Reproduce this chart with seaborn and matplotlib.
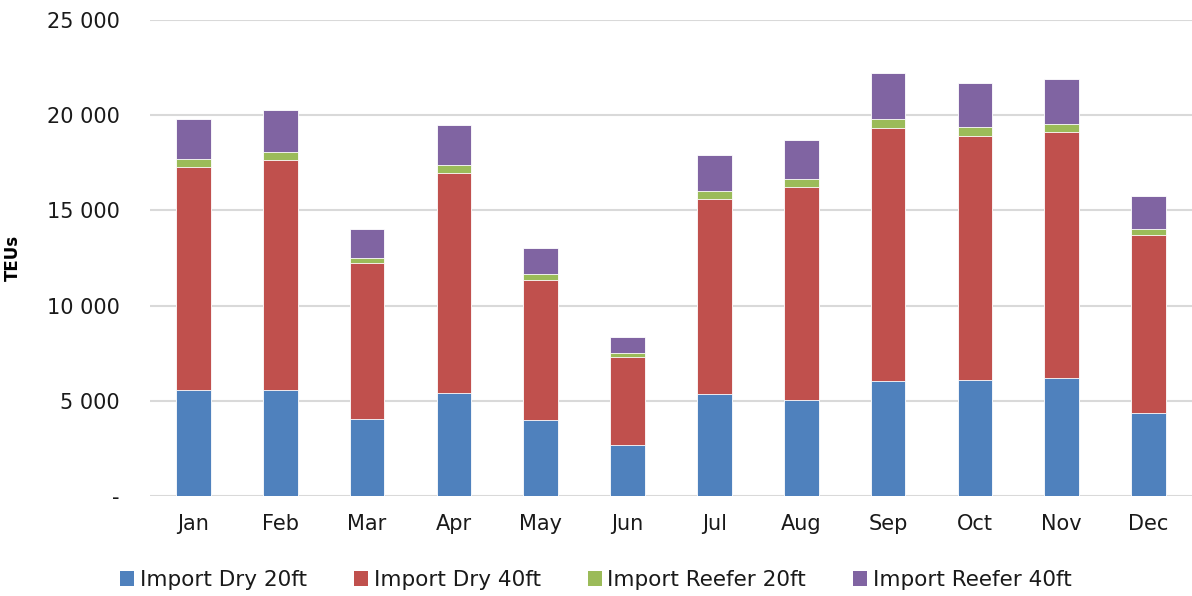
import numpy as np
import pandas as pd
import matplotlib
matplotlib.use("Agg")
import matplotlib.pyplot as plt
from matplotlib.ticker import FuncFormatter, MultipleLocator
from matplotlib.patches import Patch
import seaborn as sns

months = ["Jan", "Feb", "Mar", "Apr", "May", "Jun", "Jul", "Aug", "Sep", "Oct", "Nov", "Dec"]
dry_20 = [5550, 5580, 4060, 5390, 3970, 2680, 5340, 5040, 6040, 6090, 6180, 4340]
dry_40 = [11710, 12050, 8160, 11590, 7390, 4600, 10280, 11210, 13310, 12830, 12920, 9390]
reefer_20 = [420, 420, 280, 400, 300, 230, 380, 380, 450, 460, 440, 290]
reefer_40 = [2100, 2210, 1510, 2110, 1350, 840, 1890, 2050, 2430, 2330, 2340, 1720]

series_names = ["Import Dry 20ft", "Import Dry 40ft", "Import Reefer 20ft", "Import Reefer 40ft"]
colors = ["#4F81BD", "#C0504D", "#9BBB59", "#8064A2"]

sns.set_theme(style="white")
plt.rcParams["font.family"] = ["DejaVu Sans"]

fig = plt.figure(figsize=(11.92, 5.96), dpi=100)
ax = fig.add_axes([150 / 1192, 100 / 596, 1042 / 1192, 476 / 596])

df = pd.DataFrame({"month": months, "d20": dry_20, "d40": dry_40, "r20": reefer_20, "r40": reefer_40})
layers = [df["d20"], df["d40"], df["r20"], df["r40"]]
cum = np.cumsum(np.vstack(layers), axis=0)

# Stacked bars: draw cumulative totals from the top segment down
for i in range(3, -1, -1):
    sns.barplot(x=df["month"], y=cum[i], color=colors[i], width=0.4,
                saturation=1, edgecolor="#ffffff", linewidth=0.6, ax=ax, zorder=3)

ax.set_ylim(0, 25000)
ax.set_xlim(-0.5, 11.5)
ax.yaxis.set_major_locator(MultipleLocator(5000))
ax.yaxis.set_major_formatter(FuncFormatter(
    lambda v, _: "-" if v == 0 else f"{int(v):,}".replace(",", " ")))
ax.grid(axis="y", color="#d9d9d9", linewidth=1.5, zorder=0)
ax.grid(axis="x", visible=False)
for s in ax.spines.values():
    s.set_visible(False)

ax.tick_params(axis="y", length=0, pad=22, labelsize=15, labelcolor="#1a1a1a")
ax.tick_params(axis="x", length=0, pad=13, labelsize=15, labelcolor="#1a1a1a")
ax.set_xlabel("")
ax.set_ylabel("TEUs", fontsize=12, fontweight="bold", color="#000000")
ax.yaxis.set_label_coords(-128 / 1042, 0.5)

handles = [Patch(facecolor=c, edgecolor="none") for c in colors]
fig.legend(handles, series_names, loc="center", bbox_to_anchor=(0.5, 1 - 580 / 596),
           ncol=4, frameon=False, fontsize=15.5, handlelength=0.65, handleheight=0.65,
           handletextpad=0.25, columnspacing=2.2, labelcolor="#1a1a1a")

fig.savefig("out.png", dpi=100)
